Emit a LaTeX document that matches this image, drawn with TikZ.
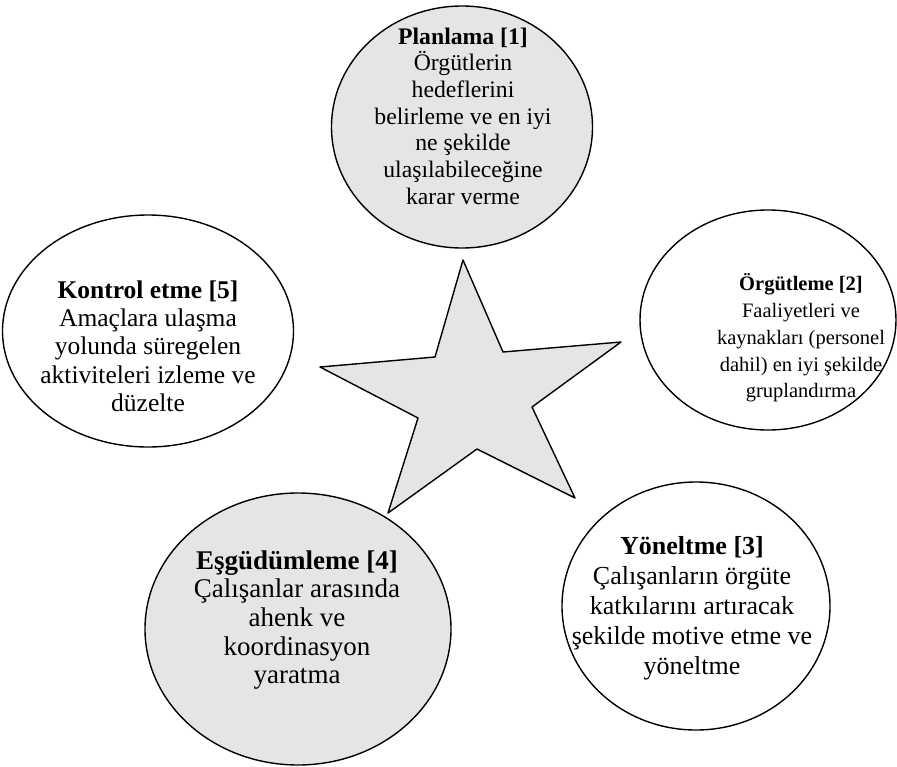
\documentclass[tikz,border=0pt]{standalone}
\usepackage{fontspec}
\setmainfont{Liberation Serif}
\usetikzlibrary{shapes.geometric}

\begin{document}
\begin{tikzpicture}[
    x=1pt, y=-1pt,
    line join=round,
    bubble/.style={draw, ellipse, line width=1.4pt, inner sep=0pt, fill=white},
    greybubble/.style={bubble, fill=black!10},
    txt/.style={align=center, inner sep=0pt},
    centrestar/.style={draw, line width=1.4pt, fill=black!10}
  ]
  \useasboundingbox (0,0) rectangle (897,766);

  % ---------- star ---------------------------------------------------------
  \draw[centrestar] (463,260) -- (503,352) -- (621,342) -- (532,407)
        -- (575,498) -- (477,449) -- (388,513) -- (418,418)
        -- (320,367) -- (435,357) -- cycle;

  % ---------- bubbles ------------------------------------------------------
  \node[greybubble, minimum width=261pt, minimum height=242pt] (plan) at (462,127) {};
  \node[bubble, minimum width=256pt, minimum height=220pt] (orgut) at (768,320) {};
  \node[bubble, minimum width=268pt, minimum height=248pt] (yonel) at (696,606) {};
  \node[greybubble, minimum width=306pt, minimum height=272pt] (esgud) at (298,629) {};
  \node[bubble, minimum width=291pt, minimum height=232pt] (kontr) at (148,331) {};

  % ---------- texts --------------------------------------------------------
  \node[txt, font=\fontsize{23.7}{26.7}\selectfont] (plantxt) at (463,116)
        {\textbf{Planlama [1]}\\ Örgütlerin\\ hedeflerini\\ belirleme ve en iyi\\
         ne şekilde\\ ulaşılabileceğine\\ karar verme};
  \node[txt, font=\fontsize{20.5}{26.7}\selectfont] (orguttxt) at (801,338)
        {\textbf{Örgütleme [2]}\\ Faaliyetleri ve\\ kaynakları (personel\\
         dahil) en iyi şekilde\\ gruplandırma};
  \node[txt, font=\fontsize{26}{30}\selectfont] (yoneltxt) at (692,608)
        {\textbf{Yöneltme [3]}\\ Çalışanların örgüte\\ katkılarını artıracak\\
         şekilde motive etme ve\\ yöneltme};
  \node[txt, font=\fontsize{27}{28.7}\selectfont] (esgudtxt) at (297,620)
        {\textbf{Eşgüdümleme [4]}\\ Çalışanlar arasında\\ ahenk ve\\
         koordinasyon\\ yaratma};
  \node[txt, font=\fontsize{25.5}{28.3}\selectfont] (kontrtxt) at (148,346)
        {\textbf{Kontrol etme [5]}\\ Amaçlara ulaşma\\ yolunda süregelen\\
         aktiviteleri izleme ve\\ düzelte};

\end{tikzpicture}
\end{document}
